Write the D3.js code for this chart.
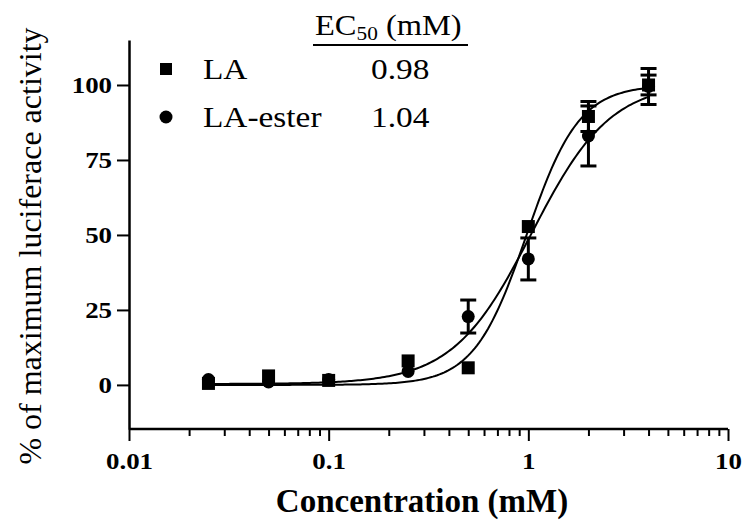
<!DOCTYPE html>
<html>
<head>
<meta charset="utf-8">
<script src="https://cdn.jsdelivr.net/npm/d3@7"></script>
<style>
  body { margin: 0; background: #fff; }
</style>
</head>
<body>
<svg id="chart" width="744" height="528"></svg>
<script>
// concentrations (mM)
const conc = [0.025, 0.05, 0.1, 0.25, 0.5, 1, 2, 4];
// LA (squares)
const laValues = [0.5, 3, 1.5, 8, 5.7, 52.8, 89.5, 100];
const laErr = [0, 0, 0, 0, 0, 0, 5, 3.3];
// LA-ester (circles)
const esterValues = [1.8, 1, 1.8, 4.5, 22.8, 42, 83, 99.5];
const esterErr = [0, 0, 0, 0, 5.5, 7, 10, 6];
// fitted curves: [bottom, top, EC50, hill]
const laFit = [0, 100, 0.98, 3.3];
const esterFit = [0.3, 101, 1.04, 2.2];
const yTicks = [0, 25, 50, 75, 100];
const xTicks = [0.01, 0.1, 1, 10];
const ecRows = [["LA", "0.98"], ["LA-ester", "1.04"]];

const FONT = "Liberation Serif";

function draw() {
  const svg = d3.select("#chart").style("font-family", FONT);
  const x = d3.scaleLog().domain([0.01, 10]).range([129, 728]);
  const y = d3.scaleLinear().domain([-14.7, 115]).range([429, 40]);

  // stretch text horizontally like the original
  function stretch(sel, k) {
    sel.each(function () {
      const w = this.getComputedTextLength();
      d3.select(this).attr("textLength", w * k).attr("lengthAdjust", "spacingAndGlyphs");
    });
  }

  // y axis
  const yAxis = svg.append("g")
    .attr("transform", "translate(129,0)")
    .call(d3.axisLeft(y).tickValues(yTicks).tickSize(12).tickSizeOuter(0).tickPadding(5));
  yAxis.attr("font-family", null).attr("font-size", null);
  yAxis.select(".domain").attr("stroke-width", 2.5);
  yAxis.selectAll(".tick line").attr("stroke-width", 2);
  yAxis.selectAll(".tick text")
    .style("font-family", FONT).style("font-size", "24px").style("font-weight", "bold")
    .attr("fill", "#000").attr("dy", "0.33em").call(stretch, 1.12);

  // x axis with minor ticks
  const minor = [];
  for (let d = 0.01; d < 10; d *= 10) for (let m = 2; m <= 9; m++) minor.push(d * m);
  const xMinor = svg.append("g")
    .attr("transform", "translate(0,429)")
    .call(d3.axisBottom(x).tickValues(minor).tickSize(7).tickSizeOuter(0).tickFormat(""));
  xMinor.select(".domain").remove();
  xMinor.selectAll(".tick line").attr("stroke-width", 2);

  const xAxis = svg.append("g")
    .attr("transform", "translate(0,429)")
    .call(d3.axisBottom(x).tickValues(xTicks).tickSize(12).tickSizeOuter(0).tickPadding(10)
      .tickFormat(d => d3.format("~g")(d)));
  xAxis.attr("font-family", null).attr("font-size", null);
  xAxis.select(".domain").attr("stroke-width", 2.5).attr("d", "M129,0H728");
  xAxis.selectAll(".tick line").attr("stroke-width", 2);
  xAxis.selectAll(".tick text")
    .style("font-family", FONT).style("font-size", "24px").style("font-weight", "bold")
    .attr("fill", "#000").attr("y", 40).attr("dy", 0).call(stretch, 1.12);

  // titles
  svg.append("text")
    .attr("x", 422).attr("y", 512).attr("text-anchor", "middle")
    .style("font-family", FONT).style("font-size", "33px").style("font-weight", "bold")
    .text("Concentration (mM)");
  svg.append("text")
    .attr("transform", "translate(41,246) rotate(-90)")
    .attr("text-anchor", "middle")
    .style("font-family", FONT).style("font-size", "32px")
    .text("% of maximum luciferace activity");

  // fitted curves
  const hill = (p, c) => p[0] + (p[1] - p[0]) / (1 + Math.pow(p[2] / c, p[3]));
  const lo = Math.log10(conc[0]), hi = Math.log10(conc[conc.length - 1]);
  const grid = d3.range(0, 201).map(i => Math.pow(10, lo + i / 200 * (hi - lo)));
  [laFit, esterFit].forEach(p => {
    svg.append("path")
      .attr("d", d3.line().x(c => x(c)).y(c => y(hill(p, c)))(grid))
      .attr("fill", "none").attr("stroke", "#000").attr("stroke-width", 2);
  });

  // error bars
  function errorBars(vals, errs) {
    const g = svg.append("g").attr("stroke", "#000").attr("stroke-width", 3);
    conc.forEach((c, i) => {
      if (!errs[i]) return;
      const cx = x(c), y1 = y(vals[i] - errs[i]), y2 = y(vals[i] + errs[i]);
      g.append("line").attr("x1", cx).attr("x2", cx).attr("y1", y1).attr("y2", y2);
      g.append("line").attr("x1", cx - 8).attr("x2", cx + 8).attr("y1", y1).attr("y2", y1);
      g.append("line").attr("x1", cx - 8).attr("x2", cx + 8).attr("y1", y2).attr("y2", y2);
    });
  }
  errorBars(esterValues, esterErr);
  errorBars(laValues, laErr);

  // markers
  svg.append("g").selectAll("circle").data(conc).join("circle")
    .attr("cx", c => x(c)).attr("cy", (c, i) => y(esterValues[i])).attr("r", 6.5).attr("fill", "#000");
  svg.append("g").selectAll("rect").data(conc).join("rect")
    .attr("x", c => x(c) - 6.5).attr("y", (c, i) => y(laValues[i]) - 6.5)
    .attr("width", 13).attr("height", 13).attr("fill", "#000");

  // legend / EC50 table
  const legend = svg.append("g");
  legend.append("rect").attr("x", 160).attr("y", 63).attr("width", 12).attr("height", 12).attr("fill", "#000");
  legend.append("circle").attr("cx", 166).attr("cy", 117).attr("r", 6.5).attr("fill", "#000");
  const rowY = [79, 127];
  ecRows.forEach((r, i) => {
    legend.append("text").attr("x", 203).attr("y", rowY[i])
      .style("font-family", FONT).style("font-size", "29px").text(r[0]).call(stretch, 1.15);
    legend.append("text").attr("x", 371).attr("y", rowY[i])
      .style("font-family", FONT).style("font-size", "29px").text(r[1]).call(stretch, 1.15);
  });
  const head = legend.append("text").attr("x", 315).attr("y", 35)
    .style("font-family", FONT).style("font-size", "29px");
  head.append("tspan").text("EC");
  head.append("tspan").style("font-size", "19px").attr("dy", 5).text("50");
  head.append("tspan").attr("dy", -5).text(" (mM)");
  head.call(stretch, 1.12);
  legend.append("line").attr("x1", 313).attr("x2", 468).attr("y1", 45).attr("y2", 45)
    .attr("stroke", "#000").attr("stroke-width", 2);
}

Promise.all([
  document.fonts.load("24px 'Liberation Serif'"),
  document.fonts.load("bold 24px 'Liberation Serif'")
]).then(draw, draw);
</script>
</body>
</html>
